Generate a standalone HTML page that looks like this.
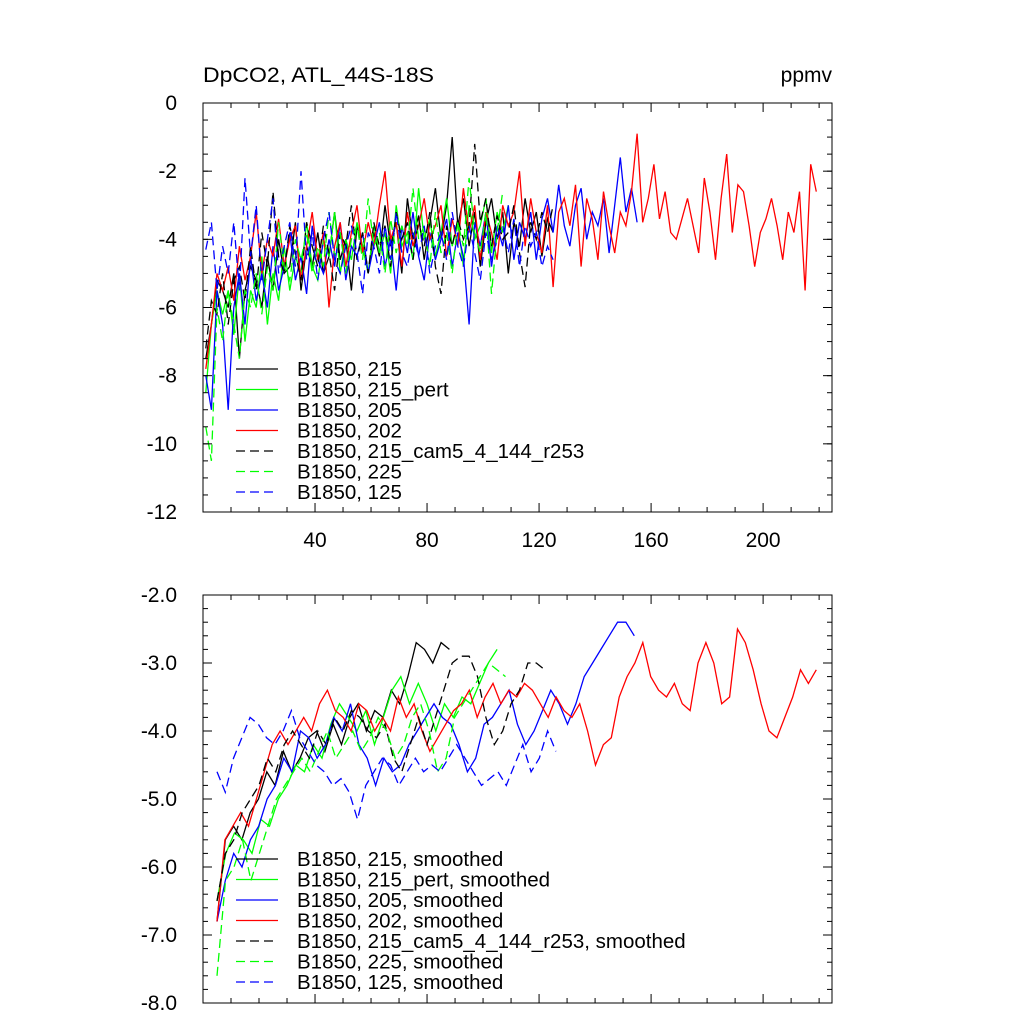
<!DOCTYPE html>
<html><head><meta charset="utf-8"><style>
html,body{margin:0;padding:0;background:#fff;}
svg{display:block;font-family:"Liberation Sans",sans-serif;}
</style></head><body>
<svg id="chart" width="1024" height="1024" viewBox="0 0 1024 1024">
<text x="203" y="82" font-size="21" textLength="231" lengthAdjust="spacingAndGlyphs">DpCO2, ATL_44S-18S</text>
<text x="832" y="82" font-size="21" text-anchor="end">ppmv</text>
<g id="top"></g>
<g id="bot"></g>
</svg>
<script>
// ---- top panel data (raw annual, sampled every 2 years from year 1) ----
const topNames = ["B1850, 215","B1850, 215_pert","B1850, 205","B1850, 202","B1850, 215_cam5_4_144_r253","B1850, 225","B1850, 125"];
const topColors = ["#000","#0f0","#00f","#f00","#000","#0f0","#00f"];
const topDash = [false,false,false,false,true,true,true];
const topBlack = [-7.5,-6.5,-5.2,-5.5,-6,-5,-7.5,-5.5,-4.8,-5.2,-6,-4.5,-5.5,-4,-5,-4.8,-3.5,-5.5,-4.2,-4.8,-3.8,-5,-4.5,-3.2,-4.6,-4,-5.5,-3.6,-4.2,-5,-3.8,-4.5,-3,-4.2,-3.5,-5,-2.8,-4,-3.3,-4.6,-3.5,-2.5,-4,-3,-1,-3.6,-2.8,-4.2,-3.2,-4.8,-3.5,-2.8,-4,-3.2,-5,-3.5,-4.2,-2.8,-3.8,-3.2,-4.5,-3.4,-3.8];
const topGreen = [-8.5,-6.5,-5.5,-6.2,-5.5,-6.8,-5,-7,-5.5,-6,-4.5,-6.5,-5,-5.8,-4.2,-5.5,-4.5,-5,-3.5,-4.8,-5.2,-4,-4.5,-3.2,-5,-4,-4.6,-3.5,-4.2,-5,-3.6,-4.4,-3.8,-5,-3,-4.2,-3.8,-4.6,-2.5,-4,-3.4,-4.5,-3.8,-2.8,-4.2,-3.5,-4.8,-3,-4,-3.6,-2.8,-4.4,-3.2,-3.8,-3];
const topBlue = [-8,-9,-5.5,-6.5,-9,-6,-5,-6.5,-4.5,-5.8,-5,-6,-4.2,-5.5,-4.8,-3.8,-5.2,-4.5,-5.6,-3.6,-4.6,-5,-4,-4.8,-3.5,-5.2,-4.2,-4.5,-3.8,-5,-4.2,-3.5,-4.8,-4,-5.5,-3.6,-4.4,-3.2,-4.5,-5.2,-3.8,-4.6,-4,-3.4,-4.8,-3.8,-4.5,-6.5,-3.5,-4.2,-3.2,-4.8,-3.6,-4.2,-3,-4.6,-3.5,-4,-3.2,-4.6,-3.4,-2.8,-3.8,-2.4,-3.6,-4.2,-3,-2.5,-4,-3.2,-3.6,-2.8,-4.4,-3,-1.6,-3.2,-2.5,-3.5];
const topRed = [-7.8,-6.5,-5,-5.5,-4.8,-5.8,-4.2,-5.2,-4.5,-3.2,-5,-4,-4.5,-3.4,-4.8,-4,-3.6,-5.2,-4.2,-3.2,-4.6,-3.8,-6,-4.2,-3.5,-4.8,-3.8,-3,-4.4,-3.5,-4.2,-3,-2,-4,-3.5,-4.8,-3.2,-4.2,-3.6,-2.8,-4,-3.6,-3,-4.5,-3.4,-4.2,-2.5,-3.8,-3,-4.6,-3.2,-3.8,-4.6,-3,-3.6,-3.2,-2,-4.2,-2.8,-3.8,-4.4,-3,-5.4,-3.2,-2.8,-3.6,-2.4,-4.8,-2.8,-3.4,-4.6,-2.6,-3.6,-4.4,-3.2,-3.6,-2.6,-0.9,-3.5,-2.8,-1.8,-3.4,-2.6,-3.8,-4,-3.4,-2.8,-3.6,-4.4,-2.2,-3.2,-4.6,-2.8,-1.5,-3.8,-2.4,-2.6,-3.6,-4.8,-3.8,-3.4,-2.8,-3.6,-4.6,-3.2,-3.8,-2.6,-5.5,-1.8,-2.6];
const topBlackDash = [-7.2,-5.8,-6.2,-5,-6.5,-5.2,-4.8,-5.8,-4.2,-5.5,-3.8,-4.8,-2.6,-4.5,-5,-3.6,-4.4,-5.2,-3.5,-4.2,-4.8,-3.6,-4.4,-5.5,-3.8,-4.2,-3,-4.6,-3.8,-5,-3.5,-4.2,-3.6,-4.8,-3.2,-4,-3.5,-4.6,-3.4,-4.2,-3.2,-4.8,-5.6,-3.6,-4.2,-3.4,-4,-3.6,-1.2,-3.5,-2.8,-4.2,-3.3,-4,-3.8,-3,-4.4,-5.4,-3.5,-4,-3.2,-3.8,-3];
const topGreenDash = [-9.5,-10.5,-6,-7,-5.5,-6.5,-7.5,-5.5,-6,-5,-6.2,-4.8,-5.5,-3.5,-4.8,-5.2,-4,-4.6,-3.8,-5,-4.2,-4.8,-3.2,-4.5,-3.8,-5,-4,-3.6,-4.6,-2.8,-4.2,-3.8,-5,-3.4,-4.4,-3.6,-4.2,-2.5,-4,-3.6,-4.8,-3.2,-4.4,-3.8,-5,-3.5,-4.2,-2.2,-3.8,-4.4,-3.2,-5.6,-3.8,-2.6];
const topBlueDash = [-4.3,-3.5,-5.5,-4.2,-5,-3.5,-5.5,-2.2,-4.5,-3,-5.2,-4,-2.8,-5,-4.2,-3.5,-4.8,-2,-4.6,-3.8,-5.2,-4,-3.2,-4.6,-5,-4.2,-3.6,-4.4,-5.6,-3.8,-4.2,-5,-3.6,-4.6,-3.2,-4.4,-4.8,-3.8,-4.5,-3.6,-5,-4.2,-3.8,-4.6,-3.2,-4.2,-4.8,-3.6,-4.4,-5.2,-3.8,-4.6,-4,-3.6,-4.4,-3.4,-4.8,-3.6,-4.2,-3.8,-4.8,-4.2,-4.6];
const topSeries = [topBlack,topGreen,topBlue,topRed,topBlackDash,topGreenDash,topBlueDash];
const topStep = 2, topStart = 1;

// ---- bottom panel data (smoothed); first/last year of each series ----
const botNames = ["B1850, 215, smoothed","B1850, 215_pert, smoothed","B1850, 205, smoothed","B1850, 202, smoothed","B1850, 215_cam5_4_144_r253, smoothed","B1850, 225, smoothed","B1850, 125, smoothed"];
const botFirst = [5,5,5,5,5,5,5];
const botLast = [88,105,154,219,122,108,126];
const botBlack = [-6.8,-5.6,-5.4,-5.6,-5.2,-5.0,-4.6,-4.8,-4.3,-4.6,-4.4,-4.1,-4.0,-4.3,-3.9,-4.2,-3.8,-3.6,-4.0,-3.7,-3.8,-3.4,-3.6,-3.2,-2.7,-2.8,-3.0,-2.7,-2.8];
const botGreen = [-6.5,-5.8,-5.5,-5.6,-5.8,-5.3,-5.4,-5.0,-4.8,-4.5,-4.6,-4.2,-4.4,-3.9,-3.6,-3.8,-4.0,-3.7,-4.2,-3.8,-3.4,-3.2,-3.6,-3.3,-3.6,-4.0,-3.6,-3.8,-3.5,-3.6,-3.3,-3.0,-2.8];
const botBlue = [-6.8,-6.2,-5.8,-6.0,-5.6,-5.4,-5.0,-4.8,-4.4,-4.6,-4.0,-4.1,-4.4,-4.2,-3.8,-4.0,-3.6,-4.2,-4.4,-4.8,-4.4,-4.6,-4.5,-4.2,-4.0,-3.8,-3.6,-3.8,-3.9,-4.2,-4.6,-4.4,-3.9,-3.8,-3.6,-3.4,-3.9,-4.2,-4.0,-3.7,-3.4,-3.6,-3.9,-3.6,-3.2,-3.0,-2.8,-2.6,-2.4,-2.4,-2.6];
const botRed = [-6.8,-5.6,-5.4,-5.2,-5.4,-5.0,-4.6,-4.2,-4.0,-4.2,-4.0,-3.8,-4.0,-3.6,-3.4,-3.7,-3.8,-4.0,-3.6,-3.7,-4.0,-3.8,-4.0,-3.5,-3.8,-3.6,-4.0,-4.3,-4.1,-3.9,-3.7,-3.6,-3.4,-3.8,-3.5,-3.3,-3.6,-3.4,-3.5,-3.3,-3.4,-3.6,-3.8,-3.5,-3.7,-3.8,-3.6,-4.0,-4.5,-4.2,-4.1,-3.5,-3.2,-3.0,-2.7,-3.2,-3.4,-3.5,-3.3,-3.6,-3.7,-3.0,-2.7,-3.0,-3.6,-3.5,-2.5,-2.7,-3.1,-3.6,-4.0,-4.1,-3.8,-3.5,-3.1,-3.3,-3.1];
const botBlackDash = [-6.5,-5.8,-5.6,-5.2,-5.0,-4.8,-4.4,-4.6,-4.2,-4.0,-4.2,-4.4,-4.0,-4.2,-3.8,-4.0,-3.7,-3.8,-4.0,-4.1,-3.9,-4.4,-4.6,-4.2,-3.8,-4.2,-3.8,-3.4,-3.0,-2.9,-2.9,-3.2,-3.8,-4.2,-4.0,-3.6,-3.4,-3.0,-3.0,-3.1];
const botGreenDash = [-7.6,-6.2,-6.0,-5.6,-6.2,-5.8,-5.4,-5.0,-4.8,-4.6,-4.4,-4.6,-4.3,-4.0,-4.4,-4.2,-4.0,-4.3,-4.1,-3.8,-4.0,-4.4,-4.2,-3.8,-3.6,-4.0,-4.6,-4.4,-3.8,-3.6,-3.4,-3.2,-3.0,-3.1,-3.2];
const botBlueDash = [-4.6,-4.9,-4.4,-4.1,-3.8,-3.9,-4.1,-4.2,-4.0,-3.7,-4.1,-4.3,-4.5,-4.6,-4.8,-4.7,-4.9,-5.3,-4.8,-4.6,-4.4,-4.5,-4.8,-4.6,-4.4,-4.6,-4.5,-4.6,-4.4,-4.2,-4.4,-4.6,-4.8,-4.7,-4.6,-4.8,-4.5,-4.2,-4.6,-4.4,-4.0,-4.3];
const botSeries = [botBlack,botGreen,botBlue,botRed,botBlackDash,botGreenDash,botBlueDash];

const xTicks = [40,80,120,160,200];
const topYTicks = [0,-2,-4,-6,-8,-10,-12];
const botYTicks = [-2,-3,-4,-5,-6,-7,-8];

const NS = "http://www.w3.org/2000/svg";
const L = 203, R = 832;
const xMin = 0, xMax = 224.6;
function sx(v){ return L + (v - xMin) / (xMax - xMin) * (R - L); }

function mk(tag, attrs, parent){
  const e = document.createElementNS(NS, tag);
  for (const k in attrs) e.setAttribute(k, attrs[k]);
  parent.appendChild(e);
  return e;
}

function panel(g, T, B, yMin, yMax, yTicks, yMinor, fmt, showX, names, series, xOf, legY, legPrefix){
  const sy = v => T + (yMax - v) / (yMax - yMin) * (B - T);
  series.forEach((vals, i) => {
    const pts = vals.map((v, j) => sx(xOf(i, j, vals.length)).toFixed(1) + "," + sy(v).toFixed(1)).join(" ");
    const pl = mk("polyline", {points: pts, fill: "none", stroke: topColors[i], "stroke-width": 1.3, "stroke-dasharray": topDash[i] ? "9,5" : "none"}, g);
    
    
  });
  const fr = mk("rect", {x: L, y: T, width: R - L, height: B - T, fill: "none", stroke: "#000", "stroke-width": 1}, g);
  
  
  for (let v = 10; v <= 220; v += 10) {
    const major = v % 40 === 0;
    const len = major ? 9 : 5;
    const x = sx(v);
    mk("line", {x1: x, x2: x, y1: B, y2: B - len, stroke: "#000"}, g);
    mk("line", {x1: x, x2: x, y1: T, y2: T + len, stroke: "#000"}, g);
  }
  if (showX) xTicks.forEach(v => {
    const t = mk("text", {x: sx(v), y: B + 35, "font-size": 21, "text-anchor": "middle"}, g);
    t.textContent = v;
    
    
  });
  for (let v = yMin; v <= yMax + 1e-9; v += yMinor) {
    const y = sy(v);
    mk("line", {x1: L, x2: L + 5, y1: y, y2: y, stroke: "#000"}, g);
    mk("line", {x1: R, x2: R - 5, y1: y, y2: y, stroke: "#000"}, g);
  }
  yTicks.forEach(v => {
    const y = sy(v);
    mk("line", {x1: L, x2: L + 9, y1: y, y2: y, stroke: "#000"}, g);
    mk("line", {x1: R, x2: R - 9, y1: y, y2: y, stroke: "#000"}, g);
    const t = mk("text", {x: L - 26, y: y + 7, "font-size": 21, "text-anchor": "end"}, g);
    t.textContent = fmt(v);
    
    
  });
  names.forEach((n, i) => {
    const y = legY + i * 20.5;
    const ln = mk("line", {x1: 236, x2: 278, y1: y, y2: y, stroke: topColors[i], "stroke-width": 1.3, "stroke-dasharray": topDash[i] ? "9,5" : "none"}, g);
    
    
    const t = mk("text", {x: 297, y: y + 7, "font-size": 20.5}, g);
    t.textContent = n;
    
    
  });
}

panel(document.getElementById("top"), 103, 512, -12, 0, topYTicks, 0.5, v => String(v), true,
  topNames, topSeries, (i, j, n) => topStart + j * topStep, 369, "top");
panel(document.getElementById("bot"), 595, 1003, -8, -2, botYTicks, 0.2, v => v.toFixed(1), false,
  botNames, botSeries, (i, j, n) => botFirst[i] + j * (botLast[i] - botFirst[i]) / (n - 1), 859, "bottom");
</script>
</body></html>
